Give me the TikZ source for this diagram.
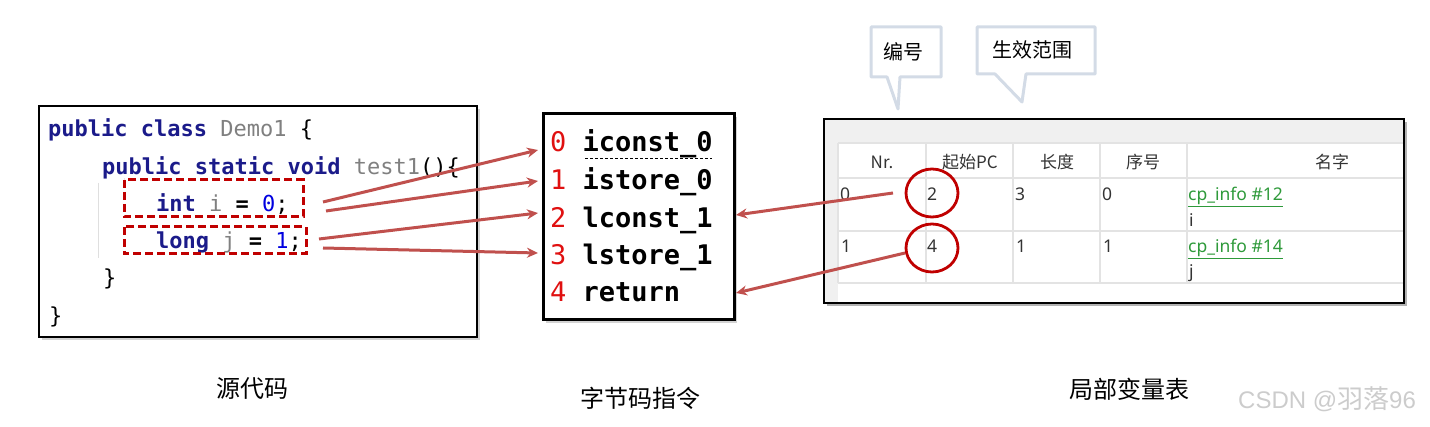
\documentclass[tikz,border=0pt]{standalone}
\usepackage{fontspec}
\setmainfont{Noto Sans}
\newfontfamily\cjk{Noto Sans CJK SC}
\newfontfamily\mono{DejaVu Sans Mono}
\newfontfamily\wmfont{Liberation Sans}
\usetikzlibrary{arrows.meta,shadows,shapes.geometric}
\definecolor{kw}{HTML}{1B1B8A}
\definecolor{cgray}{HTML}{808080}
\definecolor{cblue}{HTML}{0000E0}
\definecolor{boxred}{HTML}{C00000}
\definecolor{arr}{HTML}{C0504D}
\definecolor{numred}{HTML}{E01010}
\definecolor{callout}{HTML}{D3DBE6}
\definecolor{gridc}{HTML}{E3E3E3}
\definecolor{panel}{HTML}{F0F0F0}
\definecolor{link}{HTML}{2E9A3A}
\definecolor{txt}{HTML}{333333}
\tikzset{
  code/.style={anchor=base west, inner sep=0pt, font=\mono\fontsize{22}{26}\selectfont},
  bc/.style={anchor=base west, inner sep=0pt, font=\mono\fontsize{27}{32}\selectfont},
  dbox/.style={draw=boxred, line width=3pt, dash pattern=on 8pt off 4pt},
  panelbox/.style={draw=black, line width=3pt, drop shadow={shadow xshift=3pt, shadow yshift=-3pt, opacity=0.35}},
  arrowline/.style={draw=arr, line width=3pt, -{Stealth[length=11pt,width=10pt]}},
  callbox/.style={draw=callout, line width=3pt, fill=white, line join=round},
  calltext/.style={inner sep=0pt, font=\cjk\fontsize{20}{24}\selectfont},
  th/.style={anchor=base, inner sep=0pt, text=txt, font=\cjk\fontsize{17}{20}\selectfont},
  td/.style={anchor=base west, inner sep=0pt, text=txt, font=\fontsize{17.5}{20}\selectfont},
  tl/.style={anchor=base west, inner sep=0pt, text=link, font=\fontsize{17.5}{20}\selectfont},
  ring/.style={ellipse, draw=boxred, line width=2.8pt, minimum width=52pt, minimum height=48pt, inner sep=0pt},
  gridline/.style={draw=gridc, line width=1.2pt},
  lab/.style={inner sep=0pt, font=\cjk\fontsize{24}{28}\selectfont},
}
\begin{document}
\begin{tikzpicture}[x=1pt,y=-1pt]
\useasboundingbox (0,0) rectangle (1430,427);

% ---------- source code panel ----------
\draw[panelbox, line width=2.5pt, fill=white] (39,106) rectangle (477,337);
\draw[gray!25, line width=1pt] (98,183) -- (98,258);
\node[code] (c1) at (48,137) {{\bfseries\color{kw}public class} {\color{cgray}Demo1} \{};
\node[code] (c2) at (102,175) {{\bfseries\color{kw}public static void} {\color{cgray}test1}()\{};
\node[code] (c3) at (156,212) {{\bfseries\color{kw}int} {\color{cgray}i} {\bfseries =} {\color{cblue}0};};
\node[code] (c4) at (156,249) {{\bfseries\color{kw}long} {\color{cgray}j} {\bfseries =} {\color{cblue}1};};
\node[code] (c5) at (103,286) {\}};
\node[code] (c6) at (49,324) {\}};
\draw[dbox] (124,180) rectangle (303,217);
\draw[dbox] (124,227) rectangle (306,254);

% ---------- bytecode panel ----------
\draw[panelbox, fill=white] (543,114) rectangle (734,320);
\node[bc] (b0) at (550,152) {{\color{numred}0} \textbf{iconst\_0}};
\node[bc] (b1) at (550,190) {{\color{numred}1} \textbf{istore\_0}};
\node[bc] (b2) at (550,228) {{\color{numred}2} \textbf{lconst\_1}};
\node[bc] (b3) at (550,265) {{\color{numred}3} \textbf{lstore\_1}};
\node[bc] (b4) at (550,302) {{\color{numred}4} \textbf{return}};
\draw[black, line width=1pt, dash pattern=on 3pt off 2pt] (585,159) -- (712,159);

% ---------- callouts ----------
\draw[callbox] (871,27) -- (941,27) -- (941,77) -- (900,77) -- (898,109) -- (887,77) -- (871,77) -- cycle;
\node[calltext] (k1) at (903,52) {编号};
\draw[callbox] (977,27) -- (1095,27) -- (1095,74) -- (1026,74) -- (1022,102) -- (995,74) -- (977,74) -- cycle;
\node[calltext] (k2) at (1032,50) {生效范围};

% ---------- local variable table ----------
\fill[black, opacity=0.3] (827,122) rectangle (1407,306);
\fill[panel] (824,119) rectangle (1404,303);
\fill[white] (838,143) rectangle (1404,303);
\foreach \yy in {143,178,231,283} \draw[gridline] (838,\yy) -- (1404,\yy);
\foreach \xx in {838,926,1013,1100,1187} \draw[gridline] (\xx,143) -- (\xx,283);
\draw[black, line width=2.5pt] (824,119) rectangle (1404,303);

\node[th] (h1) at (882,169) {Nr.};
\node[th] (h2) at (970,169) {起始PC};
\node[th] (h3) at (1057,169) {长度};
\node[th] (h4) at (1143,169) {序号};
\node[th] (h5) at (1332,169) {名字};

\node[td] (r11) at (840,201) {0};
\node[td] (r12) at (927,201) {2};
\node[td] (r13) at (1015,201) {3};
\node[td] (r14) at (1102,201) {0};
\node[tl] (r15) at (1188,201) {\underline{cp\_info \#12}};
\node[td] (r16) at (1189,227) {i};
\node[td] (r21) at (841,253) {1};
\node[td] (r22) at (927,253) {4};
\node[td] (r23) at (1016,253) {1};
\node[td] (r24) at (1103,253) {1};
\node[tl] (r25) at (1188,253) {\underline{cp\_info \#14}};
\node[td] (r26) at (1189,278) {j};

\node[ring] (o1) at (932,193) {};
\node[ring] (o2) at (932,248) {};

% ---------- connectors ----------
\coordinate (sa) at (323,202); \coordinate (ta) at (538,150);
\coordinate (sb) at (326,211); \coordinate (tb) at (538,181);
\coordinate (sc) at (319,239); \coordinate (tc) at (538,213);
\coordinate (sd) at (323,248); \coordinate (td) at (538,253);
\coordinate (se) at (893,193); \coordinate (te) at (736,215);
\coordinate (sf) at (905,253); \coordinate (tf) at (736,293);
\draw[arrowline] (sa) -- (ta);
\draw[arrowline] (sb) -- (tb);
\draw[arrowline] (sc) -- (tc);
\draw[arrowline] (sd) -- (td);
\draw[arrowline] (se) -- (te);
\draw[arrowline] (sf) -- (tf);

% ---------- captions ----------
\node[lab] (L1) at (252,389) {源代码};
\node[lab] (L2) at (640,398) {字节码指令};
\node[lab] (L3) at (1129,389) {局部变量表};
\node[anchor=base west, inner sep=0pt, text=gray!40, font=\wmfont\fontsize{24}{28}\selectfont] (wm) at (1238,409) {CSDN @{\cjk\fontsize{26}{28}\selectfont 羽落}96};
\end{tikzpicture}
\end{document}
